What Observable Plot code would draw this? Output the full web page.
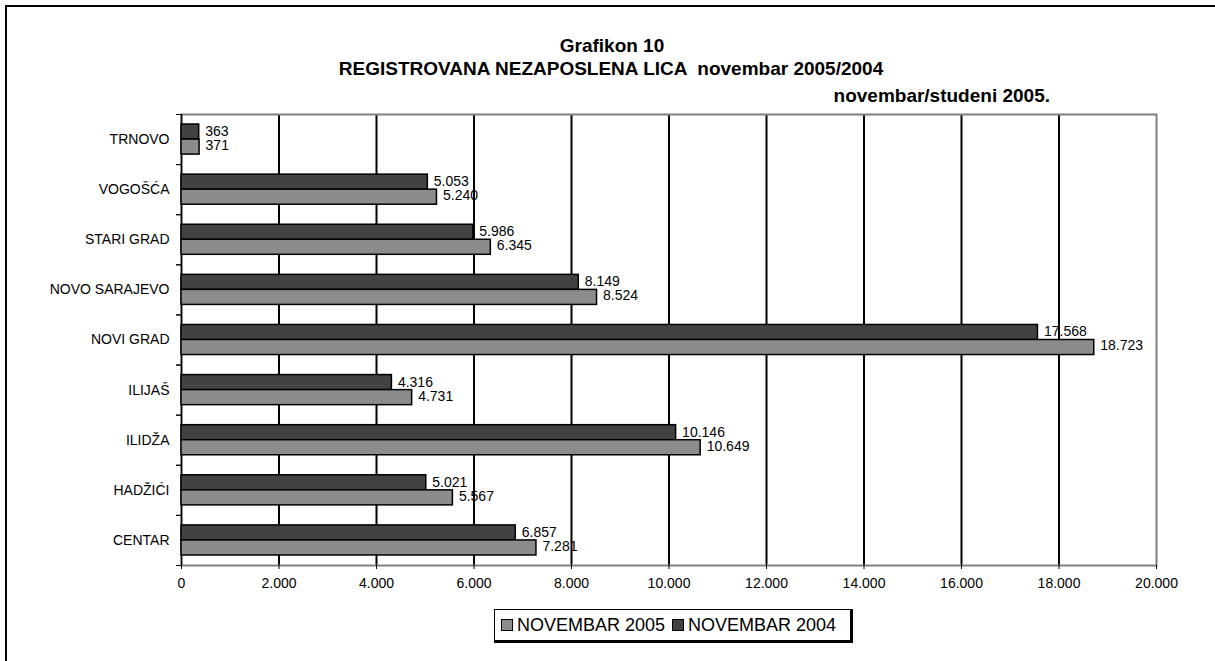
<!DOCTYPE html>
<html>
<head>
<meta charset="utf-8">
<script src="https://cdn.jsdelivr.net/npm/d3@7"></script>
<script src="https://cdn.jsdelivr.net/npm/@observablehq/plot@0.6"></script>
<style>
  html, body { margin: 0; padding: 0; background: #fff; }
  #wrap { position: relative; width: 1215px; height: 661px; overflow: hidden; font-family: "Liberation Sans", Arial, sans-serif; color: #000; }
  #outer { position: absolute; left: 5px; top: 5px; width: 1300px; height: 800px; border-left: 2px solid #000; border-top: 2px solid #000; }
  .t { position: absolute; font-weight: bold; font-size: 19px; line-height: 1; white-space: pre; }
  #plot { position: absolute; left: 0; top: 0; }
  #legend { position: absolute; left: 494px; top: 609px; width: 355px; height: 30px; border: 1px solid #000; border-right: 3px solid #000; border-bottom: 3px solid #000; background: #fff; }
  .li { position: absolute; top: 0; height: 30px; display: flex; align-items: center; font-size: 18px; line-height: 1; white-space: pre; }
  .sw { width: 10px; height: 10px; border: 1px solid #000; margin-right: 4px; }
</style>
</head>
<body>
<div id="wrap">
  <div id="outer"></div>
  <div id="plot"></div>
  <div class="t" style="left:0;width:1224px;text-align:center;top:36px;">Grafikon 10</div>
  <div class="t" style="left:0;width:1222px;text-align:center;top:59px;">REGISTROVANA NEZAPOSLENA LICA  novembar 2005/2004</div>
  <div class="t" style="right:165px;top:86px;">novembar/studeni 2005.</div>
  <div id="legend"></div>
</div>
<script>
const categories = ["TRNOVO", "VOGOŠĆA", "STARI GRAD", "NOVO SARAJEVO", "NOVI GRAD", "ILIJAŠ", "ILIDŽA", "HADŽIĆI", "CENTAR"];
const nov2004 = [363, 5053, 5986, 8149, 17568, 4316, 10146, 5021, 6857];
const nov2005 = [371, 5240, 6345, 8524, 18723, 4731, 10649, 5567, 7281];
const seriesNames = ["NOVEMBAR 2005", "NOVEMBAR 2004"];
const seriesColors = ["#8c8c8c", "#424242"];
const xTicks = [0, 2000, 4000, 6000, 8000, 10000, 12000, 14000, 16000, 18000, 20000];

const rows = categories.map((c, i) => ({cat: c, v2004: nov2004[i], v2005: nov2005[i]}));
const fmt = d3.formatLocale({decimal: ",", thousands: ".", grouping: [3], currency: ["", ""]}).format(",d");

const W = 1215, H = 661;
const mL = 181, mR = 59, mT = 114, mB = 96;
const step = (H - mT - mB) / categories.length;
const pIn = 0.4, pOut = 0.2;
const bw = step * (1 - pIn);

const chart = Plot.plot({
  width: W, height: H,
  marginLeft: mL, marginRight: mR, marginTop: mT, marginBottom: mB,
  style: {fontFamily: "'Liberation Sans', Arial, sans-serif", fontSize: "14px", color: "#000", background: "transparent"},
  x: {domain: [0, 20000]},
  y: {domain: categories, paddingInner: pIn, paddingOuter: pOut, round: false},
  marks: [
    Plot.ruleX(xTicks.slice(1, -1), {stroke: "#000", strokeWidth: 2}),
    Plot.frame({stroke: "#808080", strokeWidth: 2}),
    Plot.ruleX([0], {stroke: "#000", strokeWidth: 1.5}),
    Plot.axisX({ticks: xTicks, tickSize: 4, tickPadding: 9, tickFormat: fmt, label: null, fontSize: 14}),
    Plot.axisY({tickSize: 0, tickPadding: 12, label: null, fontSize: 14}),
    Plot.axisY({tickSize: 5, tickFormat: () => "", label: null, dy: -step / 2}),
    Plot.axisY({tickSize: 5, tickFormat: () => "", label: null, dy: step / 2}),
    Plot.barX(rows, {x: "v2004", y: "cat", insetBottom: bw / 2, fill: seriesColors[1], stroke: "#000", strokeWidth: 1.5}),
    Plot.barX(rows, {x: "v2005", y: "cat", insetTop: bw / 2, fill: seriesColors[0], stroke: "#000", strokeWidth: 1.5}),
    Plot.text(rows, {x: "v2004", y: "cat", text: d => fmt(d.v2004), dx: 6, dy: -8, textAnchor: "start", fill: "#000", fontSize: 14}),
    Plot.text(rows, {x: "v2005", y: "cat", text: d => fmt(d.v2005), dx: 6, dy: 6, textAnchor: "start", fill: "#000", fontSize: 14})
  ]
});
document.getElementById("plot").appendChild(chart);

const legend = document.getElementById("legend");
const lefts = [6, 177];
seriesNames.forEach((name, i) => {
  const item = document.createElement("div");
  item.className = "li";
  item.style.left = lefts[i] + "px";
  const sw = document.createElement("span");
  sw.className = "sw";
  sw.style.background = seriesColors[i];
  item.appendChild(sw);
  item.appendChild(document.createTextNode(name));
  legend.appendChild(item);
});
</script>
</body>
</html>
